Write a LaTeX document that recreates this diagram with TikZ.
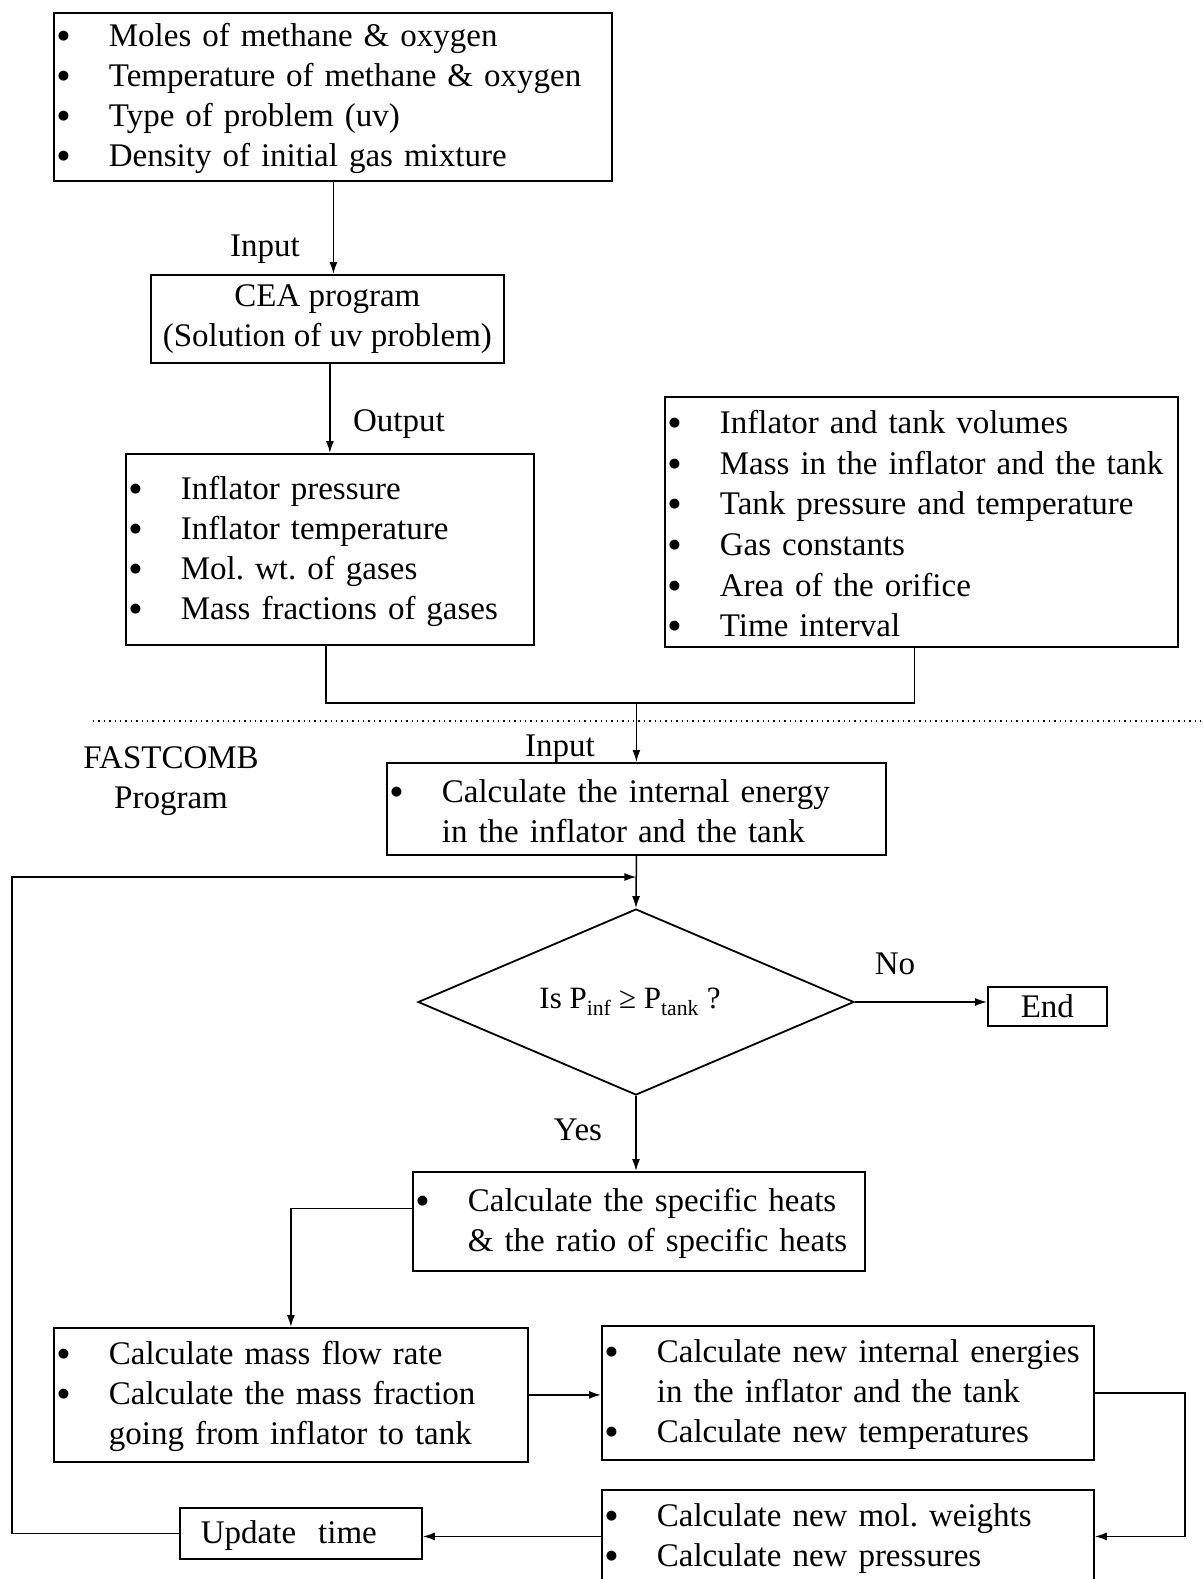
\documentclass[tikz,border=0pt]{standalone}
\usepackage{fontspec}
\setmainfont{Liberation Serif}
\newfontfamily\symfont{DejaVu Sans}
\usetikzlibrary{arrows.meta, positioning, calc, shapes.geometric}

\frenchspacing
\newcommand{\bigdot}{\raisebox{7pt}{\symfont\fontsize{13}{13}\selectfont ●}}
\newcommand{\bul}[1]{\makebox[52pt][l]{\hspace*{1pt}\bigdot}\mbox{#1}}
\newcommand{\sig}[1]{\hspace*{52pt}\mbox{#1}}

\begin{document}
\begin{tikzpicture}[
        x=1pt, y=-1pt,
        font=\fontsize{33}{40}\selectfont,
        box/.style 2 args={
            draw,
            line width=1.8pt,
            anchor=north west,
            inner xsep=3pt,
            inner ysep=0pt,
            align=left,
            text width=#1,
            minimum height=#2,
            execute at begin node=\rule{0pt}{27pt}
        },
        cbox/.style 2 args={
            draw,
            line width=1.8pt,
            anchor=north west,
            inner sep=0pt,
            align=center,
            minimum width=#1,
            minimum height=#2
        },
        link/.style={
            line width=1.5pt,
            -{Latex[length=12pt, width=8pt]}
        }
    ]
    \useasboundingbox (0,0) rectangle (1202,1579);

    % CEA part
    \node[box={552pt}{168pt}] (inputs) at (53,12) {
        \bul{Moles of methane \& oxygen}\\
        \bul{Temperature of methane \& oxygen}\\
        \bul{Type of problem (uv)}\\
        \bul{Density of initial gas mixture}};
    \node[cbox={353pt}{88pt}] (cea) at (150,274)
        {CEA program\\(Solution of uv problem)};
    \node[box={402pt}{191pt}] (outputs) at (125,453) {
        \bul{Inflator pressure}\\
        \bul{Inflator temperature}\\
        \bul{Mol. wt. of gases}\\
        \bul{Mass fractions of gases}};
    \node[box={507pt}{250pt}, font=\fontsize{33}{40.6}\selectfont] (params) at (664,396) {
        \bul{Inflator and tank volumes}\\
        \bul{Mass in the inflator and the tank}\\
        \bul{Tank pressure and temperature}\\
        \bul{Gas constants}\\
        \bul{Area of the orifice}\\
        \bul{Time interval}};

    \node (in1) at (265,249) {Input};
    \node (out1) at (399,424) {Output};

    \draw[link] ([xshift=6pt]cea.north |- inputs.south) -- ([xshift=6pt]cea.north);
    \draw[link] (cea.south -| outputs.north) -- (outputs.north);

    % FASTCOMB part
    \draw[line width=1.4pt, dash pattern=on 1.4pt off 4pt] (93,721) -- (1202,721);
    \node[align=center] (fastcomb) at (171,781) {FASTCOMB\\Program};
    \node (in2) at (560,749) {Input};

    \node[box={493pt}{92pt}] (ie) at (386,762) {
        \bul{Calculate the internal energy}\\
        \sig{in the inflator and the tank}};
    \node[draw, diamond, aspect=2.35, minimum width=436pt, minimum height=186pt,
        inner sep=0pt, line width=1.8pt, font=\fontsize{31}{36}\selectfont]
        (dec) at (636,1002) {Is P\textsubscript{inf} ≥ P\textsubscript{tank} ?\hspace*{12pt}};
    \node[cbox={119pt}{39pt}] (endbox) at (987,986) {End};
    \node (no) at (895,964) {No};
    \node (yes) at (578,1130) {Yes};

    \node[box={446pt}{99pt}] (sh) at (412,1171) {
        \bul{Calculate the specific heats}\\
        \sig{\& the ratio of specific heats}};
    \node[box={468pt}{134pt}] (mf) at (53,1327) {
        \bul{Calculate mass flow rate}\\
        \bul{Calculate the mass fraction}\\
        \sig{going from inflator to tank}};
    \node[box={486pt}{134pt}] (nie) at (601,1325) {
        \bul{Calculate new internal energies}\\
        \sig{in the inflator and the tank}\\
        \bul{Calculate new temperatures}};
    \node[box={486pt}{93pt}] (bot) at (601,1489) {
        \bul{Calculate new mol. weights}\\
        \bul{Calculate new pressures}};
    \node[box={236pt}{51pt}, execute at begin node={}] (upd) at (179,1507)
        {\hspace*{18pt}Update\ \ time};

    \coordinate (merge) at (ie.north |- 0,703);
    \coordinate (loopin) at (ie.south |- 0,877);
    \coordinate (loopleft) at (12,877);

    \draw[line width=1.5pt] ([xshift=-4pt]outputs.south) |- (merge)
        -| ([xshift=-7pt]params.south);
    \draw[link] (merge) -- (ie.north);
    \draw[link] (ie.south) -- (dec.north);
    \draw[link] (dec.east) -- (dec.east -| endbox.west);
    \draw[link] (dec.south) -- (dec.south |- sh.north);
    \draw[link] ([yshift=13pt]sh.west) -| (mf.north);
    \draw[link] (mf.east) -- (mf.east -| nie.west);
    \draw[link] (nie.east) -- ([xshift=90pt]nie.east) |- (bot.east);
    \draw[link] (bot.west) -- (bot.west -| upd.east);
    \draw[link] (upd.west) -| (loopleft) -- (loopin);
\end{tikzpicture}
\end{document}
